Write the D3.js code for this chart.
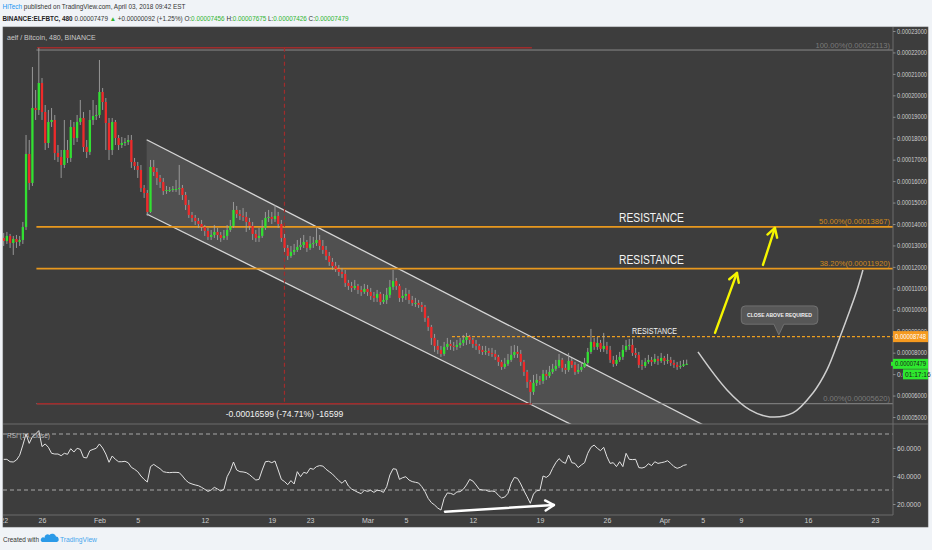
<!DOCTYPE html>
<html><head><meta charset="utf-8">
<script src="https://cdn.jsdelivr.net/npm/d3@7"></script>
<style>
html,body{margin:0;padding:0;background:#f0f3f7;}
svg{display:block;font-family:"Liberation Sans",Arial,sans-serif;}
</style></head><body>
<svg id="c" width="932" height="550"></svg>
<script>
// ---------------- DATA ----------------
const symbol = "BINANCE:ELFBTC, 480";
const startTime = "2018-01-22T00:00:00Z";   // first 8h bar
const barHours = 8;
const firstOpen = 13350;                      // satoshi
const closes = [13210,13443,13116,13303,13163,13256,13862,17266,15914,19410,
19317,20576,19224,17778,18758,18851,17312,17126,16753,17452,
17079,18525,18011,18758,18944,17592,17359,18851,19037,19084,
20156,19690,18711,17452,18758,18011,17685,17778,17825,17918,
16893,16706,16520,15680,15447,14562,16660,16426,16147,15960,
15541,15587,15587,15634,15634,15680,15354,14888,14422,14282,
14142,14002,13862,13676,13396,13489,13629,13489,13350,13443,
13722,13909,14655,14468,14375,14329,14095,13909,13536,13350,
13443,13816,14282,14329,14235,14375,14002,13350,12883,12510,
12697,12790,12930,13023,13163,12883,13070,13116,13256,12976,
12790,12510,12231,12044,11904,11765,11671,11252,11112,11019,
11112,10926,10832,10972,10832,10646,10553,10739,10366,10459,
10692,11065,11345,11112,10553,10646,10739,10459,10320,10320,
10226,10133,9620,9201,8688,8315,8128,7942,8268,8408,
8315,8268,8361,8455,8594,8734,8594,8408,8315,8128,
8035,8082,7988,7942,7802,7569,7336,7476,7662,7895,
8035,7942,7569,7103,6637,6170,6590,6730,6683,7009,
6916,7103,7243,7382,7662,7289,7196,7616,7429,7103,
7196,7336,7522,8035,8501,8268,8455,8175,8315,8128,
7662,7476,7662,7802,8128,8315,8361,7988,7895,7429,
7382,7569,7662,7569,7709,7616,7755,7616,7662,7522,
7429,7336,7382,7456,7479];
const highs = [13583,13629,13536,13443,13489,13443,14095,18151,17918,21321,
20249,22218,20809,19550,19317,19410,19084,17685,17452,18851,
17918,18851,18758,19084,19783,19224,17918,19317,19783,19550,
21648,20342,19876,18944,18944,18851,18151,18058,18011,18151,
18151,17079,16893,16753,15820,15587,16986,16986,16613,16287,
16147,15774,15727,15774,16054,16753,15820,15494,15121,14562,
14422,14282,14189,13955,13816,13722,13955,13816,13629,13722,
13955,14189,15028,14841,14655,14748,14562,14282,14095,13722,
13816,14189,14562,14655,14562,14888,14562,14189,13536,13023,
12976,13070,13256,13350,13489,13256,13443,13396,13816,13489,
13256,12976,12697,12417,12231,12091,11951,11858,11392,11299,
11392,11205,11112,11205,11159,11019,10832,10926,10832,10739,
11019,11392,11858,11485,11205,10926,11019,10926,10646,10553,
10459,10366,10226,9714,9294,8874,8594,8315,8501,8688,
8594,8501,8594,8688,8827,8921,8827,8688,8594,8408,
8315,8315,8221,8221,8128,7895,7662,7755,7942,8315,
8361,8315,8128,7662,7196,6730,6963,7009,6916,7196,
7196,7382,7476,7662,7942,7755,7476,7988,7755,7569,
7476,7569,7755,8221,9107,8688,8734,8594,8921,8501,
8315,7848,7895,8035,8361,8594,8641,8641,8221,8035,
7662,7755,7895,7802,7942,7848,7988,7848,7942,7802,
7662,7569,7616,7662,7675];
const lows = [12976,13070,12883,12557,12883,12976,13070,13722,15587,15774,
18851,19084,18851,17452,17545,18525,16986,16893,16147,16613,
16846,16893,17685,17825,18618,17359,17079,17219,18618,18851,
18944,19317,17452,16986,17219,17685,17452,17545,17638,17685,
16613,16520,16147,15494,15214,14375,14515,16240,15820,15680,
15354,15401,15494,15494,15494,15354,15121,14655,14282,14096,
13955,13816,13676,13443,13256,13256,13350,13256,13163,13256,
13256,13629,13816,14282,14189,14142,13629,13722,13256,13163,
13163,13350,13722,14095,14002,14095,13816,13163,12697,12324,
12417,12557,12697,12790,12883,12697,12790,12883,12976,12790,
12604,12324,12044,11858,11765,11578,11485,11065,10926,10832,
10926,10739,10646,10739,10646,10459,10366,10366,10226,10273,
10273,10553,10926,10926,10366,10366,10459,10273,10180,10133,
10086,9900,9434,9014,8361,8035,7942,7802,7848,8128,
8128,8082,8128,8221,8315,8361,8408,8221,8128,7942,
7895,7895,7848,7802,7662,7382,7196,7243,7382,7569,
7755,7755,7382,6916,6357,5620,6030,6450,6496,6543,
6730,6823,7009,7149,7289,7103,7009,7103,7289,6963,
7009,7103,7289,7429,7942,8128,8128,8035,8035,7942,
7522,7336,7382,7569,7662,8035,8128,7848,7755,7289,
7196,7289,7476,7382,7476,7429,7522,7429,7476,7382,
7289,7196,7243,7336,7426];
const rsi = [51.9,51.9,50.2,50.0,51.4,54.8,62.1,70.0,63.3,68.1,
70.0,72.4,61.0,62.9,60.5,56.2,55.7,55.7,54.5,56.2,
55.5,59.5,57.1,59.8,59.0,53.3,52.9,58.1,59.0,59.8,
62.9,60.0,55.7,49.8,54.3,51.9,50.2,50.2,50.5,49.5,
46.2,44.8,43.1,40.0,37.6,35.7,46.7,48.3,46.7,45.2,
43.1,42.6,42.4,42.6,42.6,42.4,40.0,37.1,35.2,34.3,
33.6,33.1,31.9,30.5,29.0,30.0,31.9,30.7,29.3,30.5,
39.5,43.8,50.0,44.3,43.1,42.9,42.4,41.0,39.0,37.1,
37.6,44.3,50.2,50.5,49.5,50.7,44.3,37.6,36.0,33.8,
36.7,34.3,43.1,39.5,42.6,41.9,45.5,44.8,46.7,47.4,
47.1,44.8,43.1,41.4,39.0,36.7,34.8,37.1,32.9,30.7,
29.5,28.3,27.4,29.8,29.0,29.8,28.3,29.8,29.5,28.3,
32.4,40.7,45.2,44.8,37.6,38.8,39.5,37.1,36.0,35.5,
35.0,32.4,28.8,24.0,21.0,19.3,17.1,15.7,24.0,27.9,
27.6,26.7,28.6,28.8,30.5,33.6,37.6,36.4,33.6,30.5,
30.0,30.0,29.0,29.3,28.8,26.2,24.3,25.0,27.6,34.8,
39.0,38.3,34.3,29.5,25.2,20.5,27.1,29.5,29.8,40.0,
39.0,40.7,45.5,49.5,52.4,50.2,49.0,55.0,49.5,49.0,
46.0,47.9,49.5,56.2,60.5,62.1,59.8,58.1,60.5,53.8,
49.0,49.5,46.7,50.2,46.7,56.2,51.9,51.7,51.9,46.0,
45.7,46.4,48.8,47.4,50.2,49.0,49.5,50.0,50.9,49.0,
46.7,45.5,46.2,47.6,48.1];

const priceTicks = [5000,6000,7000,8000,9000,10000,11000,12000,13000,14000,15000,16000,17000,18000,19000,20000,21000,22000,23000];
const rsiTicks = [20,40,60];
const rsiBands = [30,70];
const timeTickDates = ["2018-01-22","2018-01-26","2018-02-01","2018-02-05","2018-02-12","2018-02-19","2018-02-23","2018-03-01","2018-03-05","2018-03-12","2018-03-19","2018-03-26","2018-04-01","2018-04-05","2018-04-09","2018-04-16","2018-04-23"];
const timeTickLabels = ["22","26","Feb","5","12","19","23","Mar","5","12","19","26","Apr","5","9","16","23"];

// drawings (time, price in satoshi)
const fibStart = "2018-01-25T10:00Z";
const fibHigh = 22113, fibLow = 5620;
const fibLevels = [1, 0.5, 0.382, 0];
const fibLabels = ["100.00%(0.00022113)","50.00%(0.00013867)","38.20%(0.00011920)","0.00%(0.00005620)"];
const measureStart = "2018-01-25T11:30Z", measureEnd = "2018-03-18T04:00Z";
const measureHigh = 22218, measureLow = 5619;
const measureText = "-0.00016599 (-74.71%) -16599";
const channelTimes = ["2018-02-05T22:20Z","2018-04-05T05:45Z"];
const channelUpper = [17930, 4590];
const channelLower = [14468, 1559];
const resistLine = {start:"2018-03-09T19:40Z", price:8748};
const resistTexts = [
  {t:"2018-03-27T06:15Z", p:14096, txt:"RESISTANCE", size:12.5, len:65},
  {t:"2018-03-27T06:15Z", p:12137, txt:"RESISTANCE", size:12.5, len:65},
  {t:"2018-03-28T15:00Z", p:8874,  txt:"RESISTANCE", size:9,   len:45}
];
const yellowArrows = [
  [["2018-04-06T07:00Z",8921],["2018-04-08T14:00Z",11718]],
  [["2018-04-11T07:10Z",12091],["2018-04-12T13:10Z",13816]]
];
const curvePts = [["2018-04-04T12:15Z",8035],["2018-04-07T13:00Z",6264],["2018-04-09T22:30Z",5331],["2018-04-12T00:45Z",5004],
  ["2018-04-14T10:20Z",5190],["2018-04-16T12:30Z",6123],["2018-04-17T23:30Z",7196],["2018-04-19T08:10Z",8734],
  ["2018-04-20T09:20Z",9993],["2018-04-21T03:00Z",10926],["2018-04-21T17:45Z",11858]];
const callout = {t:"2018-04-12T23:00Z", p:8828, txt:"CLOSE ABOVE REQUIRED"};
const rsiArrow = [["2018-03-09T02:00Z",14.5],["2018-03-20T11:15Z",19.3]];
const lastPrice = 7479, countdown = "01:17:16";

// ---------------- LAYOUT ----------------
const L = {x0:3, x1:893, right:928, top:27, pBot:424, rBot:515, bot:527, cdX:903};
const svg = d3.select("#c");
const pd = s => new Date(s);
const x = d3.scaleUtc().domain([pd("2018-01-26T00:00Z"), pd("2018-04-23T00:00Z")]).range([42, 875]);
const y = d3.scaleLinear().domain([5000, 23000]).range([417, 31]);
const yr = d3.scaleLinear().domain([20, 60]).range([504, 448]);
const fmt8 = v => (v/1e8).toFixed(8);

function fitWidth(sel, target){
  const n = sel.node(); const fs = +sel.attr("font-size");
  const len = n.getComputedTextLength();
  if (len > 0) sel.attr("font-size", (fs*target/len).toFixed(2));
}

const defs = svg.append("defs");
defs.append("clipPath").attr("id","cp").append("rect").attr("x",L.x0).attr("y",L.top).attr("width",L.x1-L.x0).attr("height",L.pBot-L.top);
defs.append("clipPath").attr("id","cr").append("rect").attr("x",L.x0).attr("y",L.pBot).attr("width",L.x1-L.x0).attr("height",L.rBot-L.pBot);
defs.append("clipPath").attr("id","ct").append("rect").attr("x",L.x0).attr("y",L.rBot).attr("width",L.x1-L.x0).attr("height",L.bot-L.rBot);

// header
const NARROW = "'Liberation Sans Narrow','Liberation Sans',Arial,sans-serif";
const h1 = svg.append("text").attr("x",2.5).attr("y",9).attr("font-size",7.2).attr("fill","#333").attr("font-family",NARROW);
h1.append("tspan").attr("fill","#2196f3").text("HiTech");
h1.append("tspan").text(" published on TradingView.com, April 03, 2018 09:42 EST");
fitWidth(h1, 183);
const h2 = svg.append("text").attr("x",2.5).attr("y",20.5).attr("font-size",7.2).attr("fill","#333").attr("font-family",NARROW);
const G = "#2fb32f";
[[symbol,"#222","bold"],[" "+fmt8(7479)+" ","#333"],["▲",G],[" +0.00000092 (+1.25%) ","#333"],
 ["O:","#333"],[fmt8(7456),G],[" H:","#333"],[fmt8(7675),G],[" L:","#333"],[fmt8(7426),G],[" C:","#333"],[fmt8(7479),G]]
 .forEach(([t,c,w])=>h2.append("tspan").attr("fill",c).attr("font-weight",w||null).text(t));
fitWidth(h2, 346);

// panel background
svg.append("rect").attr("x",L.x0).attr("y",L.top).attr("width",L.right-L.x0).attr("height",L.bot-L.top).attr("fill","#3d3d3d");
svg.append("rect").attr("x",L.x0).attr("y",L.top).attr("width",L.right-L.x0).attr("height",L.bot-L.top).attr("fill","none").attr("stroke","#555").attr("stroke-width",0.6);

// ---- price pane ----
const gp = svg.append("g").attr("clip-path","url(#cp)");
const cu = channelTimes.map((t,i)=>[x(pd(t)), y(channelUpper[i])]);
const cl = channelTimes.map((t,i)=>[x(pd(t)), y(channelLower[i])]);
gp.append("path").attr("d", d3.line()([cu[0],cu[1],cl[1],cl[0]])+"Z").attr("fill","rgba(255,255,255,0.10)");
[cu,cl].forEach(seg=>gp.append("path").attr("d",d3.line()(seg)).attr("stroke","#d6d6d6").attr("stroke-width",1.3).attr("fill","none"));

const fx0 = x(pd(fibStart));
fibLevels.forEach((lv,i)=>{
  const p = fibLow + lv*(fibHigh-fibLow);
  const edge = (lv===1||lv===0);
  gp.append("line").attr("x1",fx0).attr("x2",L.x1).attr("y1",y(p)).attr("y2",y(p)).attr("stroke",edge?"#8a8a8a":"#e8981e").attr("stroke-width",edge?1:1.6);
  gp.append("text").attr("x",L.x1-3).attr("y",y(p)-2.5).attr("text-anchor","end").attr("font-size",7.6)
    .attr("fill",edge?"#7a7a7a":"#d18a1c").text(fibLabels[i]);
});

const RED = "#a02c2c";
const mx0 = x(pd(measureStart)), mx1 = x(pd(measureEnd));
[measureHigh, measureLow].forEach(p=>gp.append("line").attr("x1",mx0).attr("x2",mx1).attr("y1",y(p)).attr("y2",y(p)).attr("stroke",RED).attr("stroke-width",1.5));
gp.append("line").attr("x1",(mx0+mx1)/2).attr("x2",(mx0+mx1)/2).attr("y1",y(measureHigh)).attr("y2",y(measureLow))
  .attr("stroke",RED).attr("stroke-width",1.2).attr("stroke-dasharray","4,3");
gp.append("text").attr("x",(mx0+mx1)/2).attr("y",y(measureLow)+13).attr("text-anchor","middle").attr("font-size",8.6).attr("fill","#f2f2f2").text(measureText);

gp.append("line").attr("x1",x(pd(resistLine.start))).attr("x2",L.x1).attr("y1",y(resistLine.price)).attr("y2",y(resistLine.price))
  .attr("stroke","#f0a020").attr("stroke-width",1.4).attr("stroke-dasharray","3,2");

// candles
const t0 = Date.parse(startTime);
const bars = closes.map((c,i)=>({t:new Date(t0+i*barHours*3600e3), o: i?closes[i-1]:firstOpen, h:highs[i], l:lows[i], c}));
const gc = gp.append("g");
gc.selectAll("line.w").data(bars).join("line").attr("class","w")
  .attr("x1",d=>x(d.t)).attr("x2",d=>x(d.t)).attr("y1",d=>y(d.h)).attr("y2",d=>y(d.l))
  .attr("stroke","#a0a0a0").attr("stroke-width",0.9);
gc.selectAll("rect").data(bars).join("rect")
  .attr("x",d=>x(d.t)-1.15).attr("width",2.3)
  .attr("y",d=>y(Math.max(d.o,d.c))).attr("height",d=>Math.max(1,Math.abs(y(d.o)-y(d.c))))
  .attr("fill",d=>d.c>=d.o?"#32e032":"#ee2a2a");

resistTexts.forEach(r=>gp.append("text").attr("x",x(pd(r.t))).attr("y",y(r.p)).attr("font-size",r.size).attr("fill","#f4f4f4")
  .attr("textLength",r.len).attr("lengthAdjust","spacingAndGlyphs").text(r.txt));

function arrow(g, a, b, col, w){
  g.append("line").attr("x1",a[0]).attr("y1",a[1]).attr("x2",b[0]).attr("y2",b[1]).attr("stroke",col).attr("stroke-width",w).attr("stroke-linecap","round");
  const ang = Math.atan2(b[1]-a[1], b[0]-a[0]);
  [Math.PI*0.83, -Math.PI*0.83].forEach(d=>{
    g.append("line").attr("x1",b[0]).attr("y1",b[1]).attr("x2",b[0]+10*Math.cos(ang+d)).attr("y2",b[1]+10*Math.sin(ang+d))
      .attr("stroke",col).attr("stroke-width",w).attr("stroke-linecap","round");
  });
}
yellowArrows.forEach(([a,b])=>arrow(gp,[x(pd(a[0])),y(a[1])],[x(pd(b[0])),y(b[1])],"#f5f500",2.4));

gp.append("path").attr("d", d3.line().curve(d3.curveCatmullRom)(curvePts.map(d=>[x(pd(d[0])),y(d[1])])))
  .attr("fill","none").attr("stroke","#cfcfcf").attr("stroke-width",1.5);

{
  const tx = x(pd(callout.t)), ty = y(callout.p);
  const gw = 76.6, gh = 18.3, left = tx-37.6, top = ty-29, r=4, bx0=tx-5, bx1=tx+5, by=top+gh;
  const d = `M${left+r},${top} H${left+gw-r} Q${left+gw},${top} ${left+gw},${top+r} V${by-r} Q${left+gw},${by} ${left+gw-r},${by} H${bx1} L${tx},${ty} L${bx0},${by} H${left+r} Q${left},${by} ${left},${by-r} V${top+r} Q${left},${top} ${left+r},${top} Z`;
  gp.append("path").attr("d",d).attr("fill","#575757").attr("stroke","#7a7a7a").attr("stroke-width",0.8);
  gp.append("text").attr("x",tx+0.7).attr("y",top+gh/2+2.2).attr("text-anchor","middle").attr("font-size",6.1).attr("font-weight","bold")
    .attr("fill","#f0f0f0").attr("textLength",65).attr("lengthAdjust","spacingAndGlyphs").text(callout.txt);
}

svg.append("text").attr("x",7).attr("y",40).attr("font-size",7).attr("fill","#c8c8c8").text("aelf / Bitcoin, 480, BINANCE");

// ---- RSI pane ----
const gr = svg.append("g").attr("clip-path","url(#cr)");
rsiBands.forEach(v=>gr.append("line").attr("x1",L.x0).attr("x2",L.x1).attr("y1",yr(v)).attr("y2",yr(v))
  .attr("stroke","#a8a8a8").attr("stroke-width",1).attr("stroke-dasharray","4,3"));
gr.append("path").attr("d", d3.line().x((d,i)=>x(bars[i].t)).y(d=>yr(d))(rsi))
  .attr("fill","none").attr("stroke","#e2e2e2").attr("stroke-width",1);
arrow(gr,[x(pd(rsiArrow[0][0])),yr(rsiArrow[0][1])],[x(pd(rsiArrow[1][0])),yr(rsiArrow[1][1])],"#ffffff",2.4);
svg.append("text").attr("x",7).attr("y",438).attr("font-size",6.5).attr("fill","#bdbdbd").text("RSI (14, close)");

const sep = "#6c6c6c";
svg.append("line").attr("x1",L.x0).attr("x2",L.right).attr("y1",L.pBot).attr("y2",L.pBot).attr("stroke",sep);
svg.append("line").attr("x1",L.x0).attr("x2",L.x1).attr("y1",L.rBot).attr("y2",L.rBot).attr("stroke",sep);
svg.append("line").attr("x1",L.x1).attr("x2",L.x1).attr("y1",L.top).attr("y2",L.rBot).attr("stroke",sep);

// ---- axes ----
const cdTop = y(lastPrice)+5.5, cdH = 10;
const axStyle = g => { g.select(".domain").remove(); g.selectAll("line").attr("stroke","#8a8a8a");
  g.selectAll("text").attr("fill","#cdcdcd").attr("font-size",6.6).attr("font-family","Liberation Sans, Arial"); };
svg.append("g").attr("transform",`translate(${L.x1},0)`).call(d3.axisRight(y).tickValues(priceTicks).tickSize(2.5).tickPadding(1.5).tickFormat(fmt8))
  .call(axStyle).selectAll("text").attr("textLength",30).attr("lengthAdjust","spacingAndGlyphs")
  .filter(v=>y(v)>cdTop && y(v)<cdTop+cdH).each(function(){ // tick covered by the countdown label: only its left part shows
    d3.select(this).attr("textLength",null).attr("lengthAdjust",null).text("0.0");
  });
svg.append("g").attr("transform",`translate(${L.x1},0)`).call(d3.axisRight(yr).tickValues(rsiTicks).tickSize(2.5).tickPadding(1.5).tickFormat(v=>v.toFixed(4)))
  .call(axStyle);
svg.append("g").attr("clip-path","url(#ct)").append("g").attr("transform",`translate(0,${L.rBot})`)
  .call(d3.axisBottom(x).tickValues(timeTickDates.map(d=>pd(d+"T00:00Z"))).tickSize(0).tickPadding(3.5).tickFormat((d,i)=>timeTickLabels[i]))
  .call(axStyle).selectAll("text").attr("font-size",7);

function axisLabel(v, bg, fg, txt, x0, h){
  svg.append("rect").attr("x",x0).attr("y",y(v)-h/2).attr("width",L.right-x0).attr("height",h).attr("fill",bg);
  svg.append("text").attr("x",x0+2).attr("y",y(v)+2.4).attr("font-size",6.6).attr("fill",fg).attr("textLength",L.right-x0-4).attr("lengthAdjust","spacingAndGlyphs").text(txt);
}
axisLabel(resistLine.price, "#f59a1f", "#ffffff", fmt8(resistLine.price), L.x1, 11);
axisLabel(lastPrice, "#2ee82e", "#1a1a1a", fmt8(lastPrice), L.x1, 10);
svg.append("rect").attr("x",L.x1-2).attr("y",y(lastPrice)-2).attr("width",3).attr("height",4).attr("fill","#2ee82e");
svg.append("rect").attr("x",L.cdX).attr("y",cdTop).attr("width",L.right-L.cdX).attr("height",cdH).attr("fill","#2ee82e");
svg.append("text").attr("x",L.cdX+2).attr("y",cdTop+7.3).attr("font-size",6.6).attr("fill","#1a1a1a").text(countdown);

// footer
const f1 = svg.append("text").attr("x",3).attr("y",542).attr("font-size",7.5).attr("fill","#333").attr("font-family",NARROW).text("Created with");
fitWidth(f1, 36);
svg.append("path").attr("d","M42,542 H57 A2.8,2.8 0 0 0 56,536.6 A3.8,3.8 0 0 0 49.4,535 A3,3 0 0 0 44.6,537.8 A2.4,2.4 0 0 0 42,542 Z").attr("fill","#2b9ae8");
const f2 = svg.append("text").attr("x",60).attr("y",542).attr("font-size",7.5).attr("fill","#46a6ee").attr("font-family",NARROW).text("TradingView");
fitWidth(f2, 37);
</script>
</body></html>
